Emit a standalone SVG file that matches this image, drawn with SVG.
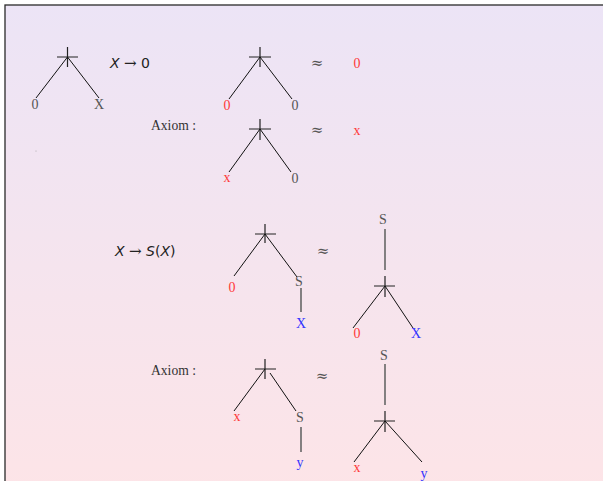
<svg xmlns="http://www.w3.org/2000/svg" width="603" height="481" viewBox="0 0 603 481">
<defs>
<linearGradient id="bg" x1="0" y1="0" x2="0" y2="1">
<stop offset="0" stop-color="#ece4f6"/>
<stop offset="1" stop-color="#fde4e7"/>
</linearGradient>
<style>
.lbl{font-family:"Liberation Serif",serif;font-size:14px;text-anchor:middle}
.g{fill:#555}
.r{fill:#ff3a3a}
.b{fill:#3434ff}
.math{font-family:"DejaVu Sans",sans-serif;font-size:14px;fill:#222}
.arr{font-family:"DejaVu Serif",serif;font-size:15px}
.ax{font-family:"Liberation Serif",serif;font-size:13.6px;fill:#333}
.apx{font-family:"DejaVu Serif",serif;font-size:15px;fill:#555;text-anchor:middle}
.edge{stroke:#111;stroke-width:1;fill:none}
.cross{stroke:#222;stroke-width:1.2;fill:none}
.sline{stroke:#666;stroke-width:1.6;fill:none}
</style>
</defs>
<rect x="0" y="0" width="603" height="481" fill="#ffffff"/>
<rect x="5" y="5" width="610" height="490" fill="url(#bg)" stroke="#2a2a2a" stroke-width="1.3"/>

<g id="connectors">
<path class="cross" d="M57 57H78M67.5 47V67"/>
<path class="edge" d="M67.5 57L36 98M67.5 57L99 98"/>
<path class="cross" d="M249 57H271M260 47V67"/>
<path class="edge" d="M260 57L229 99M260 57L292 99"/>
<path class="cross" d="M249 129H271M260 119V140"/>
<path class="edge" d="M260 129L229 172M260 129L291 172"/>
<path class="cross" d="M255 234H276M265 224V243"/>
<path class="edge" d="M265 234L234 276M265 234L297 277"/>
<path class="sline" d="M301 288V312"/>
<path class="sline" d="M385 229V270"/>
<path class="cross" d="M374 286H395M385 276V297"/>
<path class="edge" d="M385 286L353 328M385 286L413 328"/>
<path class="cross" d="M255 369H276M265 359V379"/>
<path class="edge" d="M265 369L234 411M270 373L296 411"/>
<path class="sline" d="M301 427V452"/>
<path class="sline" d="M385 364V405"/>
<path class="cross" d="M374 421H395M385 411V432"/>
<path class="edge" d="M385 421L354 462M385 421L422 462"/>
</g>

<g id="rule1">
<text class="math" x="110" y="68"><tspan font-style="italic">X</tspan> <tspan class="arr">→</tspan> 0</text>
</g>
<g id="tree1">
<text class="lbl g" x="35" y="109">0</text>
<text class="lbl g" x="99" y="109">X</text>
</g>
<g id="tree2">
<text class="lbl r" x="227" y="110">0</text>
<text class="lbl g" x="295" y="110">0</text>
</g>
<g id="approx1"><text class="apx" x="317" y="68">≈</text></g>
<g id="res1"><text class="lbl r" x="357" y="68">0</text></g>

<g id="axiom1"><text class="ax" x="151" y="130">Axiom :</text></g>
<g id="tree3">
<text class="lbl r" x="227" y="182">x</text>
<text class="lbl g" x="295" y="183">0</text>
</g>
<g id="approx2"><text class="apx" x="317" y="135">≈</text></g>
<g id="res2"><text class="lbl r" x="357" y="135">x</text></g>
<g id="dot"><circle cx="36" cy="151" r="0.5" fill="#999"/></g>

<g id="rule2">
<text class="math" x="115" y="256"><tspan font-style="italic">X</tspan> <tspan class="arr">→</tspan> <tspan font-style="italic">S</tspan>(<tspan font-style="italic">X</tspan>)</text>
</g>
<g id="tree4">
<text class="lbl r" x="232" y="292">0</text>
<text class="lbl g" x="299" y="286">S</text>
<text class="lbl b" x="301" y="328">X</text>
</g>
<g id="approx3"><text class="apx" x="323" y="256">≈</text></g>
<g id="right4">
<text class="lbl g" x="383" y="224">S</text>
<text class="lbl r" x="357" y="338">0</text>
<text class="lbl b" x="416" y="338">X</text>
</g>

<g id="axiom2"><text class="ax" x="151" y="375">Axiom :</text></g>
<g id="tree5">
<text class="lbl r" x="237" y="421">x</text>
<text class="lbl g" x="300" y="422">S</text>
<text class="lbl b" x="300" y="467">y</text>
</g>
<g id="approx4"><text class="apx" x="322" y="381">≈</text></g>
<g id="right5">
<text class="lbl g" x="384" y="360">S</text>
<text class="lbl r" x="357" y="472">x</text>
<text class="lbl b" x="424" y="478">y</text>
</g>
</svg>
